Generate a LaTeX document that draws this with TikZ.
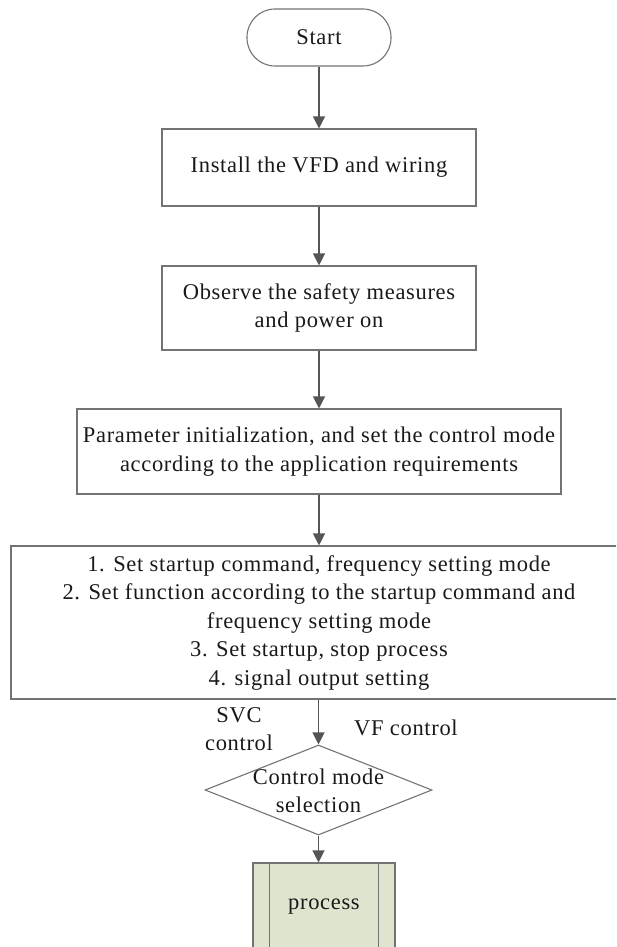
\documentclass[tikz,border=0pt]{standalone}
\usepackage{fontspec}
\setmainfont{Liberation Serif}[LetterSpace=3.0]
\usetikzlibrary{arrows.meta,shapes.geometric}
\definecolor{linegray}{RGB}{85,85,85}
\definecolor{boxgray}{RGB}{115,115,115}
\definecolor{procfill}{RGB}{222,228,206}
\definecolor{textblack}{RGB}{25,25,25}
\begin{document}
\begin{tikzpicture}[x=1pt,y=-1pt,
  txt/.style={font=\fontsize{22.5}{28.5}\selectfont, text=textblack, align=center, inner sep=0pt},
  boxnode/.style={txt, draw=boxgray, line width=1.1pt, rectangle},
  conn/.style={draw=linegray, line width=1.2pt, -{Triangle[length=12pt,width=12pt]}}]
\useasboundingbox (0,0) rectangle (616,947);
\clip (0,0) rectangle (616,947);
\node[boxnode, rounded corners=28pt, minimum width=144pt, minimum height=57pt] (start) at (319,37.5) {Start};
\node[boxnode, minimum width=314pt, minimum height=77pt] (install) at (319,167.5) {Install the VFD and wiring};
\node[boxnode, minimum width=314pt, minimum height=84pt] (observe) at (319,308) {Observe the safety measures\\and power on};
\node[boxnode, minimum width=484pt, minimum height=85pt] (param) at (319,451.5) {Parameter initialization, and set the control mode\\according to the application requirements};
\node[boxnode, minimum width=616pt, minimum height=153pt] (set) at (319,622.5) {1. Set startup command, frequency setting mode\\2. Set function according to the startup command and\\frequency setting mode\\3. Set startup, stop process\\4. signal output setting};
\node[draw=boxgray, line width=1.1pt, diamond, aspect=2.522, minimum width=227pt, minimum height=90pt, inner sep=0pt] (sel) at (318.5,790) {};
\node[txt] (seltext) at (318.5,791) {Control mode\\selection};
\node[txt, draw=boxgray, line width=1.1pt, fill=procfill, minimum width=142pt, minimum height=88pt] (proc) at (324,907) {process};
\draw[draw=boxgray, line width=1.1pt] ([xshift=17pt]proc.north west) -- ([xshift=17pt]proc.south west);
\draw[draw=boxgray, line width=1.1pt] ([xshift=-17pt]proc.north east) -- ([xshift=-17pt]proc.south east);
\node[txt] (svc) at (239,729) {SVC\\control};
\node[txt] (vf) at (406,728) {VF control};
\draw[conn] (start) -- (install);
\draw[conn] (install) -- (observe);
\draw[conn] (observe) -- (param);
\draw[conn] (param) -- (set);
\draw[conn] (set.south -| sel.north) -- (sel.north);
\draw[conn] (sel.south) -- (sel.south |- proc.north);
\end{tikzpicture}
\end{document}
